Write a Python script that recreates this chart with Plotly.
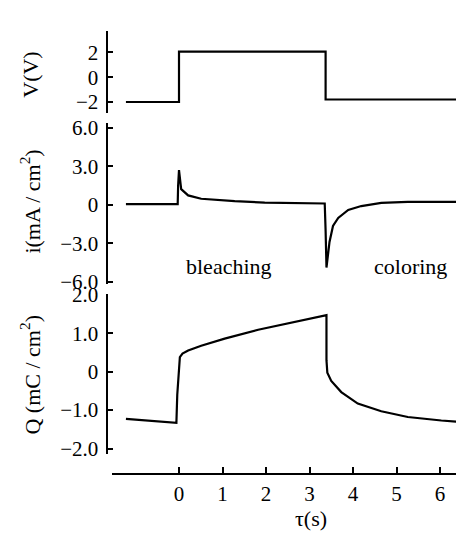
import plotly.graph_objects as go

# ---- data ----
tau_v = [-1.22, 0.0, 0.0, 3.37, 3.37, 6.74]
volt = [-2.0, -2.0, 2.05, 2.05, -1.8, -1.8]

tau_i = [-1.22, -0.03, -0.02, 0.0, 0.05, 0.21, 0.51, 0.9, 1.28, 1.97, 2.6, 3.0, 3.35,
         3.37, 3.39, 3.46, 3.54, 3.66, 3.89, 4.19, 4.65, 5.26, 6.0, 6.74]
cur = [0.05, 0.05, 1.5, 2.7, 1.22, 0.73, 0.47, 0.35, 0.28, 0.17, 0.13, 0.11, 0.1,
       -2.0, -4.9, -2.9, -1.65, -1.03, -0.4, -0.1, 0.15, 0.22, 0.22, 0.22]

tau_q = [-1.22, -0.06, -0.04, 0.0, 0.02, 0.08, 0.21, 0.51, 1.05, 1.82, 2.58, 3.39,
         3.39, 3.41, 3.5, 3.73, 4.11, 4.65, 5.26, 6.03, 6.74]
charge = [-1.23, -1.33, -0.6, 0.17, 0.38, 0.47, 0.55, 0.675, 0.86, 1.09, 1.27, 1.47,
          0.3, -0.03, -0.24, -0.53, -0.83, -1.03, -1.18, -1.27, -1.33]

x_ticks = [0, 1, 2, 3, 4, 5, 6]
v_ticks = [2, 0, -2]
v_text = ["2", "0", "\u22122"]
i_ticks = [6, 3, 0, -3, -6]
i_text = ["6.0", "3.0", "0", "\u22123.0", "\u22126.0"]
q_ticks = [2, 1, 0, -1, -2]
q_text = ["2.0", "1.0", "0", "\u22121.0", "\u22122.0"]

W, H = 464, 538
FONT = "Liberation Serif"


def px(x):
    return x / W


def py(y):
    return 1 - y / H


fig = go.Figure()
line = dict(color="black", width=2.2)
fig.add_trace(go.Scatter(x=tau_v, y=volt, mode="lines", line=line, xaxis="x", yaxis="y"))
fig.add_trace(go.Scatter(x=tau_i, y=cur, mode="lines", line=line, xaxis="x", yaxis="y2"))
fig.add_trace(go.Scatter(x=tau_q, y=charge, mode="lines", line=line, xaxis="x", yaxis="y3"))

yax_common = dict(anchor="free", position=px(98.5), side="left", showline=True,
                  linecolor="black", linewidth=2, ticks="inside", ticklen=5,
                  tickwidth=2, tickcolor="black", showgrid=False, zeroline=False,
                  tickfont=dict(family=FONT, size=21, color="black"),
                  ticklabelstandoff=3)

fig.update_layout(
    width=W, height=H,
    margin=dict(l=0, r=0, t=0, b=0),
    paper_bgcolor="white", plot_bgcolor="white",
    showlegend=False,
    xaxis=dict(domain=[px(104), 1], range=[(104 - 171) / 43.5, (464 - 171) / 43.5],
               anchor="free", position=py(474), showline=True, linecolor="black",
               linewidth=2, ticks="inside", ticklen=6, tickwidth=1.5,
               tickcolor="black", tickvals=x_ticks, showgrid=False, zeroline=False,
               tickfont=dict(family=FONT, size=21, color="black")),
    yaxis=dict(domain=[py(98), py(12.7)], range=[-2.90, 3.70],
               tickvals=v_ticks, ticktext=v_text, **yax_common),
    yaxis2=dict(domain=[py(276), py(108.3)], range=[-6.2, 6.375],
                tickvals=i_ticks, ticktext=i_text, **yax_common),
    yaxis3=dict(domain=[py(453), py(286)], range=[-2.15, 2.025],
                tickvals=q_ticks, ticktext=q_text, **yax_common),
)

ann_font = dict(family=FONT, size=22, color="black")
annotations = [
    dict(text="V(V)", x=px(23), y=py(58), textangle=-90),
    dict(text="i(mA / cm<sup>2</sup>)", x=px(22), y=py(190), textangle=-90),
    dict(text="Q (mC / cm<sup>2</sup>)", x=px(22), y=py(370), textangle=-90),
    dict(text="bleaching", x=px(221), y=py(258), textangle=0),
    dict(text="coloring", x=px(402), y=py(258), textangle=0),
    dict(text="\u03c4(s)", x=px(303), y=py(520), textangle=0),
]
for a in annotations:
    fig.add_annotation(xref="paper", yref="paper", showarrow=False,
                       xanchor="center", yanchor="middle", font=ann_font, **a)

fig.write_html("out.html")
